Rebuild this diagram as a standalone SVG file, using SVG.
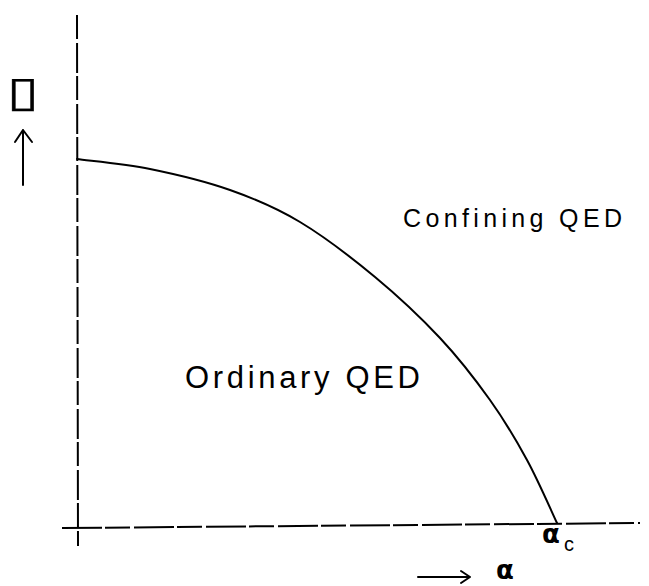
<svg xmlns="http://www.w3.org/2000/svg" width="649" height="586" viewBox="0 0 649 586">
<defs>
<style>
.ax{stroke:#000;stroke-width:2;fill:none}
.cv{stroke:#000;stroke-width:2;fill:none;stroke-linejoin:round;stroke-linecap:round}
.lbl{font-family:"Liberation Sans",Arial,sans-serif;fill:#000}
.gr{font-family:"DejaVu Sans",sans-serif;fill:#000;font-weight:bold}
</style>
</defs>
<rect width="649" height="586" fill="#fff"/>
<g id="axes">
<line class="ax" x1="77" y1="15" x2="78" y2="546" stroke-dasharray="24 4 30 3"/>
<line class="ax" x1="62" y1="528" x2="640" y2="523" stroke-dasharray="40 3 25 4"/>
</g>
<g id="connectors">
<path id="boundary" class="cv" d="M77,159 C89.2,160.7 124.5,163.8 150,169 C175.5,174.2 205,181.2 230,190 C255,198.8 275.8,207.5 300,222 C324.2,236.5 351.7,257.7 375,277 C398.3,296.3 420.8,317.5 440,338 C459.2,358.5 475.5,379.7 490,400 C504.5,420.3 515.8,439.5 527,460 C538.2,480.5 552,512.5 557,523"/>
<path class="cv" d="M23,185 L23,130 M15,142 L23,130 L32,142"/>
<path class="cv" d="M418,577 L470,577 M461,571 L470,577 L461,583"/>
</g>
<g id="label-y"><text transform="translate(23,0) scale(1.4,1)" x="0" y="106" font-size="42" text-anchor="middle" font-family="'DejaVu Sans',sans-serif" fill="#000" stroke="#000" stroke-width="0.3">▯</text></g>
<g id="label-confining"><text class="lbl" x="403" y="227" font-size="25" textLength="219" lengthAdjust="spacing">Confining QED</text></g>
<g id="label-ordinary"><text class="lbl" x="185" y="388" font-size="31" textLength="235" lengthAdjust="spacing">Ordinary QED</text></g>
<g id="label-alphac"><text class="gr" x="542" y="543" font-size="26">α</text><text class="lbl" x="564" y="551" font-size="20">c</text></g>
<g id="label-alpha"><text class="gr" x="496" y="579" font-size="26">α</text></g>
</svg>
